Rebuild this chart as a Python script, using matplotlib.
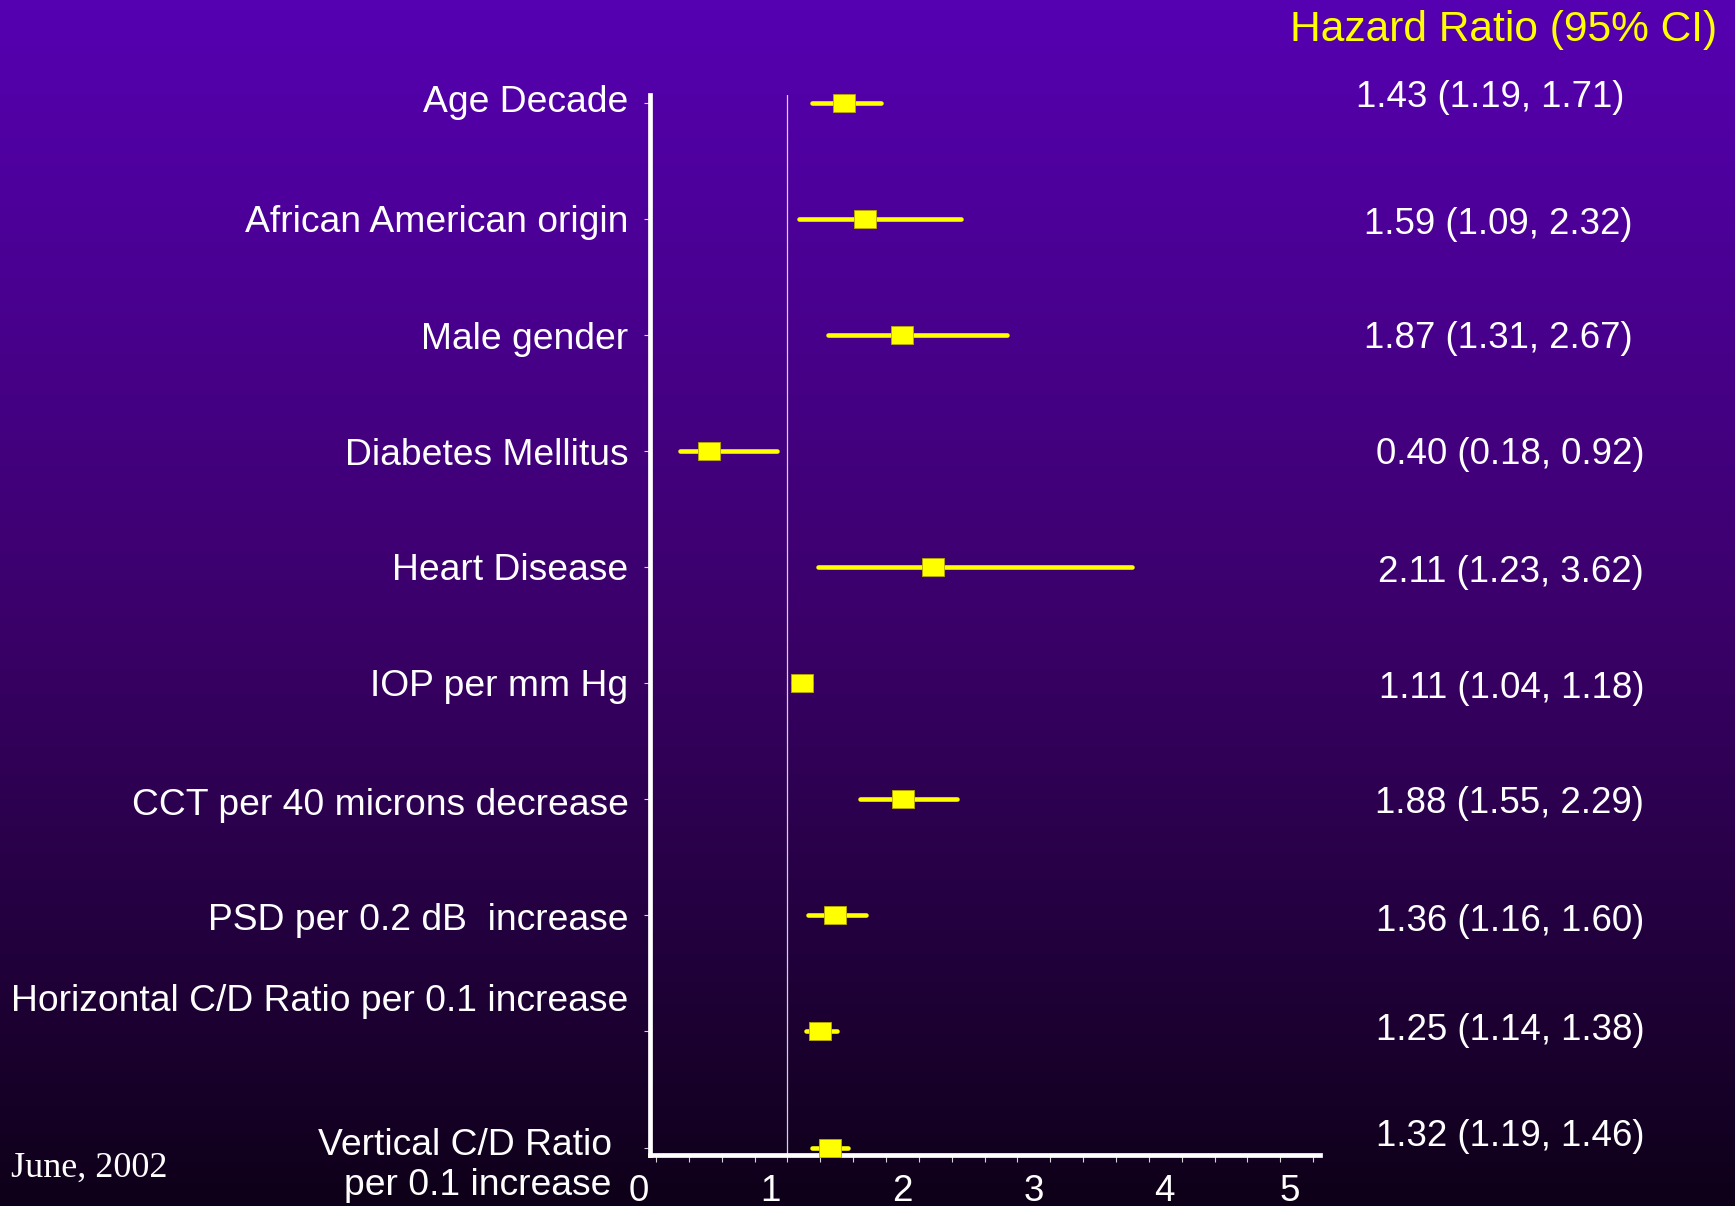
import numpy as np
import matplotlib
matplotlib.use("Agg")
import matplotlib.pyplot as plt
from matplotlib.path import Path
import matplotlib.transforms as mtransforms

# risk factors, top to bottom
factors = ["Age Decade",
           "African American origin",
           "Male gender",
           "Diabetes Mellitus",
           "Heart Disease",
           "IOP per mm Hg",
           "CCT per 40 microns decrease",
           "PSD per 0.2 dB  increase",
           "Horizontal C/D Ratio per 0.1 increase",
           "Vertical C/D Ratio\nper 0.1 increase"]
hr = [1.43, 1.59, 1.87, 0.40, 2.11, 1.11, 1.88, 1.36, 1.25, 1.32]
ci_low = [1.19, 1.09, 1.31, 0.18, 1.23, 1.04, 1.55, 1.16, 1.14, 1.19]
ci_high = [1.71, 2.32, 2.67, 0.92, 3.62, 1.18, 2.29, 1.60, 1.38, 1.46]
xticks = [0, 1, 2, 3, 4, 5]

YELLOW = "#ffff00"
FONT = ["Liberation Sans", "DejaVu Sans"]

fig = plt.figure(figsize=(17.35, 12.06), dpi=100)

# slide background: vertical purple -> near black gradient
bg = fig.add_axes([0, 0, 1, 1], zorder=-10)
stops = np.array([[86, 0, 178], [60, 0, 108], [14, 0, 24]]) / 255.0
t = np.linspace(0, 1, 512)
grad = np.stack([np.interp(t, [0, 0.5, 1], stops[:, c]) for c in range(3)], axis=-1)
bg.imshow(grad[:, None, :], aspect="auto", extent=[0, 1, 0, 1])
bg.set_axis_off()

ax = fig.add_axes([0.3744, 0.0423, 0.3865, 0.8789])
ax.patch.set_alpha(0)
rows = np.arange(len(factors))

ax.axvline(1, color="#d8d0ea", lw=0.9, zorder=1)
ax.hlines(rows, ci_low, ci_high, color=YELLOW, lw=3.3, capstyle="round", zorder=2)

# wide rectangular box marker
box = Path([(-1, -0.77), (1, -0.77), (1, 0.77), (-1, 0.77), (-1, -0.77)],
           [Path.MOVETO, Path.LINETO, Path.LINETO, Path.LINETO, Path.CLOSEPOLY])
ax.plot(hr, rows, ls="none", marker=box, ms=16, mfc=YELLOW, mec="#b8a800",
        mew=0.6, zorder=3, clip_on=False)

ax.set_xlim(-0.049, 5.053)
ax.set_ylim(9.064, -0.066)

for side in ("top", "right"):
    ax.spines[side].set_visible(False)
for side in ("left", "bottom"):
    ax.spines[side].set_color("white")
    ax.spines[side].set_linewidth(3.4)
    ax.spines[side].set_capstyle("projecting")

ax.set_yticks(rows)
ax.set_yticklabels([])
ax.tick_params(axis="y", length=4.5, width=0.8, color="#d8d0e0", direction="out")

ax.set_xticks(xticks)
ax.set_xticks(np.arange(0, 5.01, 0.25), minor=True)
ax.tick_params(axis="x", which="both", length=5, width=0.8, color="#d8d8d8",
               direction="out")
ax.tick_params(axis="x", which="major", pad=8.5, labelsize=26.5, labelcolor="white")
for lab, dx in zip(ax.get_xticklabels(), [-17, -17, -17, -17, -17, -23]):
    shift = mtransforms.ScaledTranslation(dx / 100, 0, fig.dpi_scale_trans)
    lab.set_fontfamily(FONT)
    lab.set_transform(lab.get_transform() + shift)

# row labels on the left
label_offsets = [(-21, 0), (-21, -4), (-21, -5), (-21, -5), (-21, -3),
                 (-21, -3), (-21, -6), (-21, -5), (-21, 30), (-38, -18)]
for r, name, (dx, dy) in zip(rows, factors, label_offsets):
    ax.annotate(name, xy=(0, r), xycoords=ax.get_yaxis_transform(),
                xytext=(dx, dy), textcoords="offset pixels",
                ha="right", va="center", ma="right", color="white",
                fontsize=26.8, family=FONT, linespacing=1.2)

# hazard ratio column on the right
hr_offsets = [(304, 5), (312, -6), (312, -4), (324, -4), (324, -5),
              (324, -5), (324, -4), (324, -6), (324, 1), (324, 11)]
for r, h, lo, hi, (dx, dy) in zip(rows, hr, ci_low, ci_high, hr_offsets):
    ax.annotate(f"{h:.2f} ({lo:.2f}, {hi:.2f})", xy=(1, r),
                xycoords=ax.get_yaxis_transform(), xytext=(dx, dy),
                textcoords="offset pixels", ha="right", va="center",
                color="white", fontsize=26.4, family=FONT)

fig.text(1717 / 1735, 1 - 30 / 1206, "Hazard Ratio (95% CI)", ha="right",
         va="center", color=YELLOW, fontsize=30.6, family=FONT)
fig.text(11 / 1735, 1 - 1168 / 1206, "June, 2002", ha="left", va="center",
         color="white", fontsize=26, family=["Liberation Serif", "DejaVu Serif"])

fig.savefig("out.png", dpi=100)
